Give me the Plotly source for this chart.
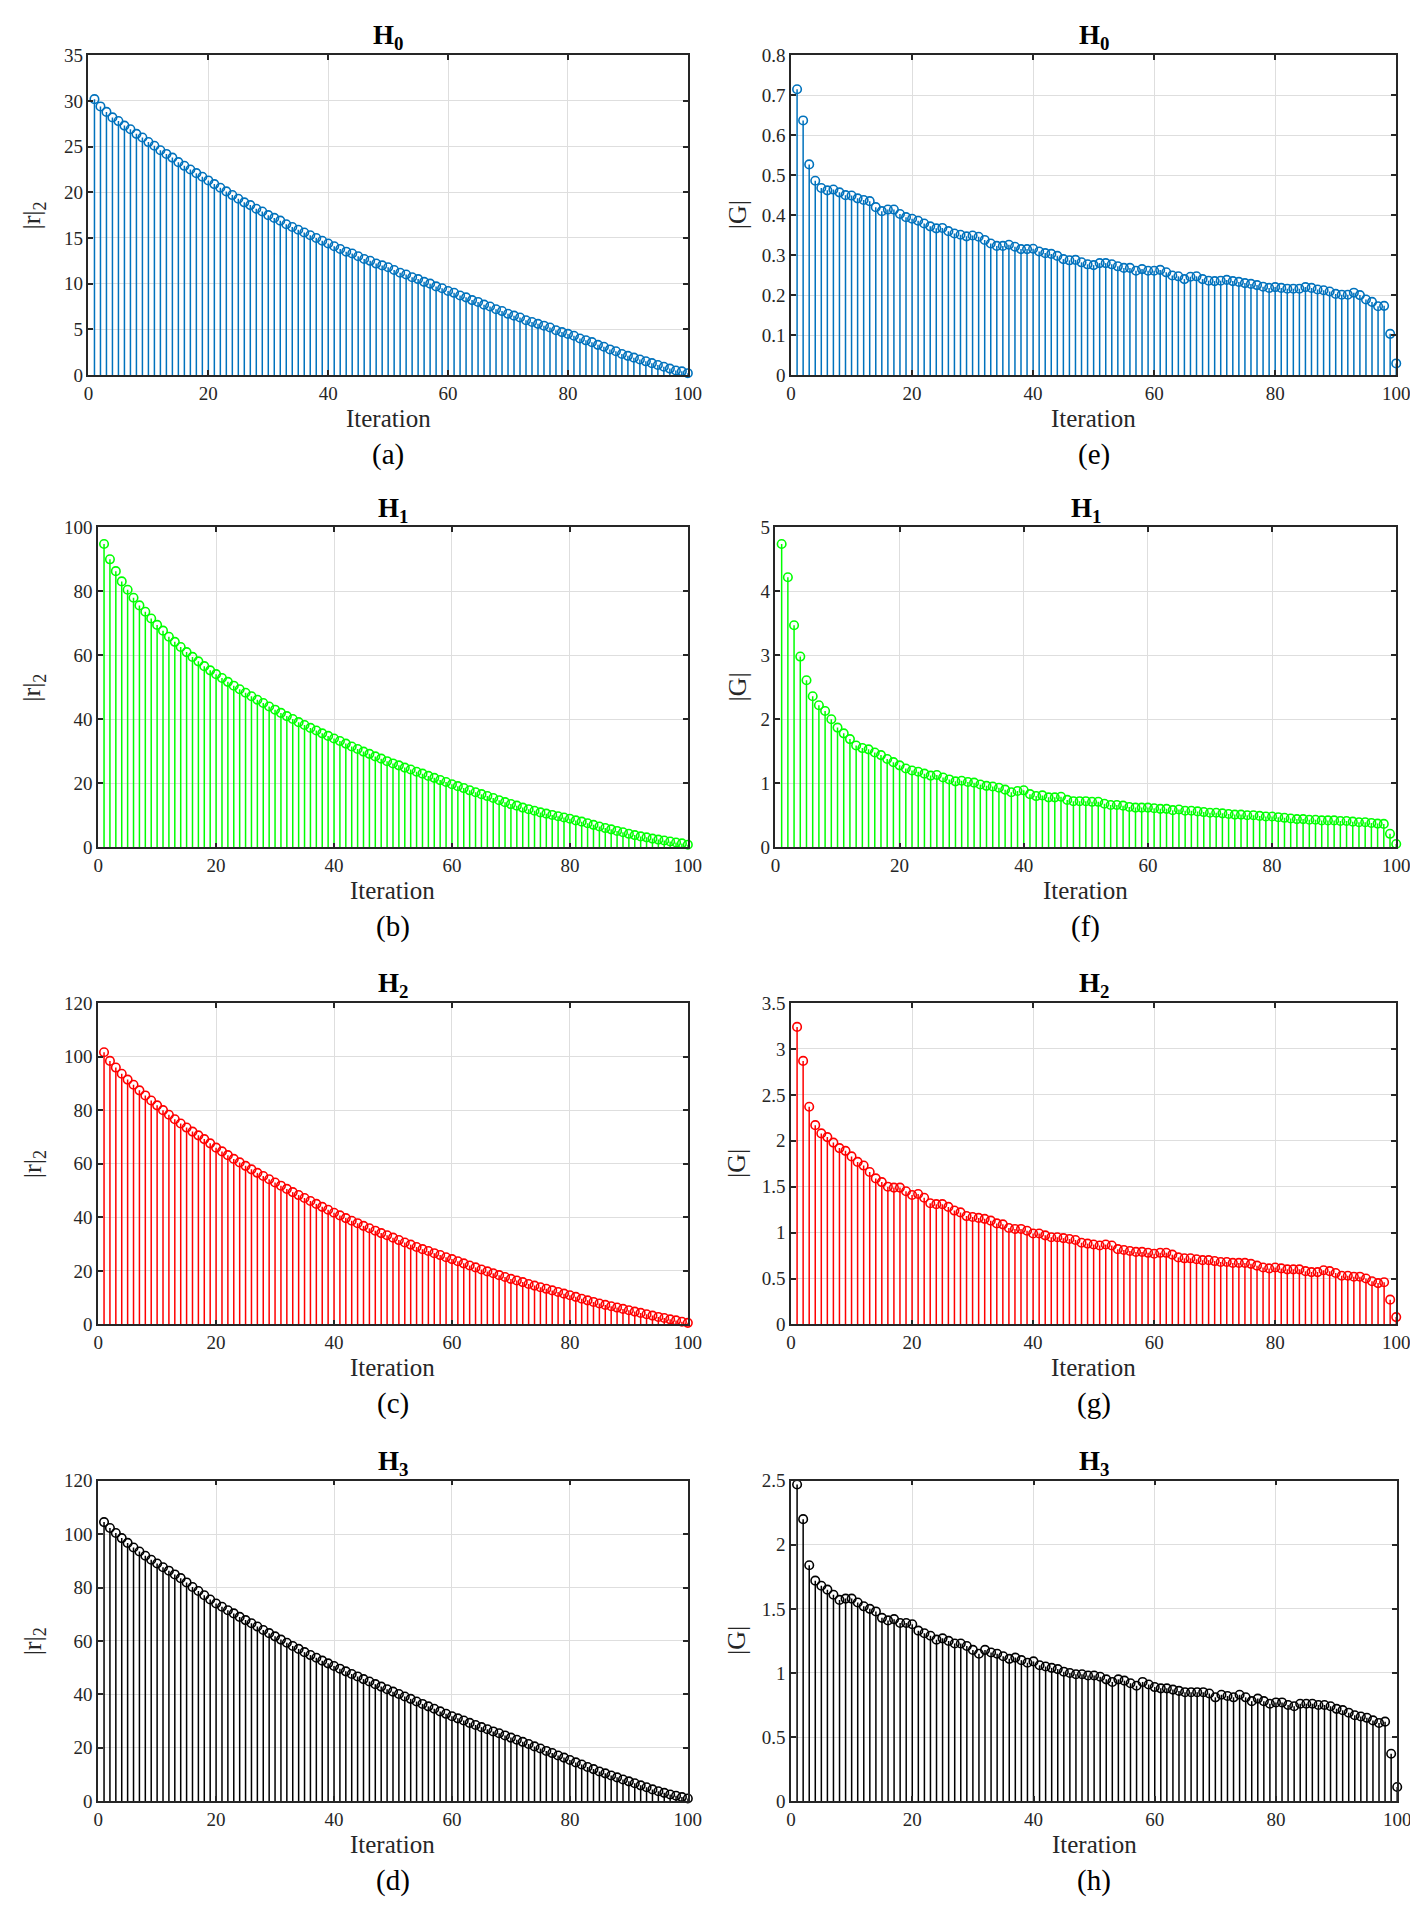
import plotly.graph_objs as go

iterations = list(range(1, 101))

# |r|_2 per iteration (left column)
h0_resid = [30.2, 29.4, 28.8, 28.2, 27.8, 27.3, 26.9, 26.4, 26.0, 25.5,
            25.1, 24.6, 24.2, 23.8, 23.3, 22.9, 22.5, 22.1, 21.7, 21.3,
            20.9, 20.5, 20.1, 19.7, 19.3, 18.9, 18.6, 18.2, 17.9, 17.5,
            17.2, 16.9, 16.5, 16.2, 15.9, 15.6, 15.3, 15.0, 14.7, 14.4,
            14.1, 13.8, 13.5, 13.3, 13.0, 12.7, 12.5, 12.2, 12.0, 11.8,
            11.5, 11.2, 11.0, 10.7, 10.5, 10.2, 10.0, 9.7, 9.5, 9.2,
            9.0, 8.7, 8.5, 8.2, 8.0, 7.7, 7.5, 7.2, 7.0, 6.7,
            6.5, 6.3, 6.0, 5.8, 5.6, 5.4, 5.2, 4.9, 4.7, 4.5,
            4.3, 4.0, 3.8, 3.6, 3.3, 3.1, 2.8, 2.6, 2.3, 2.1,
            1.9, 1.7, 1.5, 1.3, 1.1, 0.9, 0.7, 0.5, 0.4, 0.2]
h1_resid = [94.8, 90.0, 86.3, 83.1, 80.5, 78.0, 75.6, 73.6, 71.5, 69.5,
            67.7, 65.8, 64.2, 62.6, 61.0, 59.5, 58.1, 56.6, 55.3, 54.1,
            52.9, 51.7, 50.5, 49.4, 48.3, 47.2, 46.1, 45.1, 44.0, 43.0,
            42.0, 41.0, 40.1, 39.1, 38.2, 37.3, 36.5, 35.6, 34.8, 34.0,
            33.2, 32.4, 31.5, 30.7, 29.9, 29.2, 28.4, 27.7, 26.9, 26.2,
            25.6, 24.9, 24.3, 23.6, 23.0, 22.3, 21.7, 21.0, 20.4, 19.7,
            19.1, 18.5, 17.8, 17.2, 16.6, 16.0, 15.4, 14.7, 14.1, 13.5,
            13.0, 12.4, 11.9, 11.4, 10.9, 10.5, 10.1, 9.7, 9.3, 8.9,
            8.4, 8.0, 7.5, 7.0, 6.5, 6.0, 5.6, 5.1, 4.7, 4.2,
            3.8, 3.4, 3.1, 2.7, 2.4, 2.1, 1.8, 1.5, 1.2, 0.8]
h2_resid = [101.6, 98.4, 95.9, 93.6, 91.4, 89.5, 87.4, 85.5, 83.6, 81.8,
            80.0, 78.3, 76.6, 75.0, 73.5, 72.0, 70.6, 69.2, 67.6, 66.0,
            64.6, 63.2, 61.8, 60.5, 59.2, 57.9, 56.6, 55.4, 54.2, 53.0,
            51.8, 50.6, 49.4, 48.3, 47.2, 46.1, 45.0, 43.9, 42.8, 41.7,
            40.7, 39.7, 38.7, 37.8, 36.8, 35.9, 35.0, 34.1, 33.3, 32.4,
            31.5, 30.6, 29.8, 28.9, 28.1, 27.4, 26.6, 25.9, 25.1, 24.4,
            23.6, 22.8, 22.0, 21.3, 20.5, 19.8, 19.1, 18.4, 17.7, 17.0,
            16.4, 15.8, 15.1, 14.5, 13.9, 13.3, 12.7, 12.1, 11.5, 10.9,
            10.3, 9.6, 9.0, 8.4, 7.8, 7.3, 6.8, 6.3, 5.8, 5.3,
            4.8, 4.3, 3.8, 3.3, 2.8, 2.4, 1.9, 1.5, 1.0, 0.6]
h3_resid = [104.5, 102.3, 100.4, 98.5, 96.7, 95.0, 93.5, 91.9, 90.4, 89.0,
            87.6, 86.3, 84.9, 83.5, 81.9, 80.2, 78.7, 77.1, 75.5, 74.0,
            72.8, 71.5, 70.3, 69.0, 67.8, 66.6, 65.4, 64.1, 62.9, 61.7,
            60.5, 59.3, 58.1, 57.0, 55.8, 54.7, 53.7, 52.6, 51.6, 50.6,
            49.6, 48.6, 47.6, 46.7, 45.7, 44.8, 43.8, 42.9, 41.9, 41.0,
            40.1, 39.2, 38.3, 37.3, 36.4, 35.5, 34.6, 33.6, 32.7, 31.8,
            31.0, 30.2, 29.3, 28.5, 27.7, 26.9, 26.1, 25.4, 24.6, 23.8,
            23.0, 22.2, 21.4, 20.5, 19.7, 18.8, 18.0, 17.1, 16.3, 15.4,
            14.5, 13.7, 12.8, 12.0, 11.1, 10.4, 9.6, 8.9, 8.1, 7.4,
            6.7, 5.9, 5.2, 4.4, 3.7, 3.1, 2.5, 2.0, 1.5, 1.0]

# |G| per iteration (right column)
h0_grad = [0.715, 0.637, 0.527, 0.486, 0.468, 0.462, 0.464, 0.457, 0.450, 0.449,
           0.442, 0.438, 0.435, 0.420, 0.410, 0.414, 0.414, 0.403, 0.395, 0.391,
           0.386, 0.379, 0.372, 0.367, 0.368, 0.360, 0.354, 0.351, 0.347, 0.349,
           0.346, 0.338, 0.329, 0.323, 0.323, 0.326, 0.321, 0.315, 0.315, 0.316,
           0.309, 0.305, 0.303, 0.298, 0.290, 0.287, 0.288, 0.282, 0.277, 0.275,
           0.280, 0.280, 0.277, 0.272, 0.268, 0.268, 0.261, 0.265, 0.261, 0.261,
           0.263, 0.257, 0.249, 0.247, 0.240, 0.246, 0.247, 0.240, 0.236, 0.235,
           0.236, 0.238, 0.235, 0.233, 0.230, 0.228, 0.225, 0.221, 0.218, 0.220,
           0.218, 0.216, 0.216, 0.216, 0.220, 0.218, 0.214, 0.212, 0.209, 0.203,
           0.201, 0.201, 0.206, 0.200, 0.189, 0.183, 0.172, 0.173, 0.103, 0.029]
h1_grad = [4.74, 4.22, 3.47, 2.98, 2.61, 2.36, 2.22, 2.13, 2.00, 1.87,
           1.78, 1.69, 1.59, 1.55, 1.53, 1.48, 1.44, 1.38, 1.33, 1.28,
           1.23, 1.20, 1.18, 1.15, 1.12, 1.13, 1.09, 1.06, 1.03, 1.04,
           1.02, 1.01, 0.98, 0.96, 0.95, 0.93, 0.90, 0.86, 0.88, 0.89,
           0.83, 0.80, 0.81, 0.78, 0.78, 0.79, 0.74, 0.72, 0.72, 0.72,
           0.71, 0.71, 0.68, 0.66, 0.66, 0.65, 0.63, 0.62, 0.62, 0.62,
           0.61, 0.60, 0.60, 0.58, 0.59, 0.57, 0.57, 0.56, 0.55, 0.54,
           0.54, 0.53, 0.52, 0.51, 0.51, 0.50, 0.50, 0.49, 0.48, 0.48,
           0.47, 0.46, 0.45, 0.44, 0.44, 0.43, 0.43, 0.42, 0.42, 0.42,
           0.41, 0.41, 0.40, 0.39, 0.39, 0.38, 0.37, 0.365, 0.21, 0.05]
h2_grad = [3.24, 2.87, 2.37, 2.17, 2.08, 2.04, 1.98, 1.92, 1.89, 1.83,
           1.77, 1.73, 1.66, 1.59, 1.55, 1.50, 1.49, 1.49, 1.45, 1.41,
           1.42, 1.38, 1.32, 1.31, 1.31, 1.28, 1.24, 1.22, 1.18, 1.17,
           1.16, 1.15, 1.13, 1.10, 1.09, 1.05, 1.04, 1.04, 1.02, 0.99,
           0.99, 0.97, 0.95, 0.95, 0.94, 0.93, 0.92, 0.89, 0.88, 0.87,
           0.86, 0.87, 0.86, 0.82, 0.81, 0.80, 0.79, 0.79, 0.78, 0.77,
           0.78, 0.78, 0.76, 0.73, 0.72, 0.72, 0.71, 0.70, 0.70, 0.69,
           0.68, 0.68, 0.67, 0.67, 0.67, 0.66, 0.64, 0.62, 0.61, 0.62,
           0.61, 0.60, 0.60, 0.60, 0.58, 0.57, 0.57, 0.59, 0.58, 0.56,
           0.53, 0.53, 0.52, 0.52, 0.50, 0.47, 0.45, 0.46, 0.27, 0.08]
h3_grad = [2.47, 2.20, 1.84, 1.72, 1.68, 1.65, 1.61, 1.57, 1.58, 1.58,
           1.55, 1.52, 1.50, 1.48, 1.43, 1.41, 1.42, 1.39, 1.39, 1.38,
           1.33, 1.31, 1.29, 1.26, 1.27, 1.25, 1.23, 1.23, 1.21, 1.18,
           1.15, 1.18, 1.16, 1.15, 1.13, 1.11, 1.12, 1.10, 1.08, 1.09,
           1.06, 1.05, 1.04, 1.03, 1.01, 1.00, 0.99, 0.99, 0.98, 0.98,
           0.97, 0.95, 0.93, 0.95, 0.94, 0.92, 0.90, 0.93, 0.91, 0.89,
           0.88, 0.88, 0.87, 0.86, 0.85, 0.85, 0.85, 0.85, 0.84, 0.81,
           0.83, 0.82, 0.81, 0.83, 0.81, 0.78, 0.80, 0.78, 0.76, 0.77,
           0.77, 0.75, 0.74, 0.76, 0.76, 0.76, 0.75, 0.75, 0.74, 0.72,
           0.71, 0.69, 0.67, 0.66, 0.65, 0.63, 0.61, 0.62, 0.37, 0.11]

W, H = 1418, 1905
SERIF = "Liberation Serif, DejaVu Serif, serif"
AX = "#262626"

# (data, colour, title sub, ylabel, caption, ymax, dtick, box left/right/top/bottom in px)
panels = [
    (h0_resid, "#0072BD", "0", "|r|<sub>2</sub>", "(a)", 35, 5, (76.5, 684, 37.7, 361)),
    (h1_resid, "#00FF00", "1", "|r|<sub>2</sub>", "(b)", 100, 20, (86.3, 684, 515, 838.5)),
    (h2_resid, "#FF0000", "2", "|r|<sub>2</sub>", "(c)", 120, 20, (86.3, 684, 996, 1321)),
    (h3_resid, "#000000", "3", "|r|<sub>2</sub>", "(d)", 120, 20, (86.3, 684, 1479, 1803)),
    (h0_grad, "#0072BD", "0", "|G|", "(e)", 0.8, 0.1, (788.6, 1402, 37.7, 361)),
    (h1_grad, "#00FF00", "1", "|G|", "(f)", 5, 1, (772.8, 1402, 515, 838.5)),
    (h2_grad, "#FF0000", "2", "|G|", "(g)", 3.5, 0.5, (788.6, 1402, 996, 1321)),
    (h3_grad, "#000000", "3", "|G|", "(h)", 2.5, 0.5, (788.6, 1403, 1479, 1803)),
]

fig = go.Figure()
annotations = []
layout = {}

for i, (vals, color, sub, ylab, cap, ymax, dt, box) in enumerate(panels):
    n = i + 1
    left, right, top, bottom = box
    xa = "x" if n == 1 else "x%d" % n
    ya = "y" if n == 1 else "y%d" % n
    fig.add_trace(go.Scatter(
        x=iterations, y=vals, xaxis=xa, yaxis=ya, mode="markers",
        marker=dict(symbol="circle-open", size=8.5, color=color,
                    line=dict(width=1.6, color=color)),
        error_y=dict(type="data", symmetric=False, array=[0] * len(vals),
                     arrayminus=vals, width=0, thickness=1.5, color=color),
        cliponaxis=False, showlegend=False, hoverinfo="x+y"))

    common = dict(showline=True, linecolor=AX, linewidth=1.5, mirror="ticks",
                  ticks="inside", ticklen=5, tickwidth=1.5, tickcolor=AX,
                  showgrid=True, gridcolor="#dedede", gridwidth=1, zeroline=False,
                  tickfont=dict(family=SERIF, size=19, color=AX))
    layout["xaxis" if n == 1 else "xaxis%d" % n] = dict(
        common, domain=[left / W, right / W], range=[0, 100], dtick=20,
        anchor=ya)
    layout["yaxis" if n == 1 else "yaxis%d" % n] = dict(
        common, domain=[1 - bottom / H, 1 - top / H], range=[0, ymax], dtick=dt,
        anchor=xa)

    cx = (left + right) / 2 / W
    annotations += [
        dict(text="<b>H<sub>%s</sub></b>" % sub, x=cx, y=1 - (top - 18) / H,
             font=dict(family=SERIF, size=27, color="#000000")),
        dict(text="Iteration", x=cx, y=1 - (bottom + 44) / H,
             font=dict(family=SERIF, size=25, color=AX)),
        dict(text=cap, x=cx, y=1 - (bottom + 80) / H,
             font=dict(family=SERIF, size=29, color="#000000")),
        dict(text=ylab, x=(20.7 if n <= 4 else 734) / W, y=1 - (top + bottom) / 2 / H,
             textangle=-90, font=dict(family=SERIF, size=26, color=AX)),
    ]

for a in annotations:
    a.update(xref="paper", yref="paper", showarrow=False,
             xanchor="center", yanchor="middle")

fig.update_layout(**layout)
fig.update_layout(width=W, height=H, margin=dict(l=0, r=0, t=0, b=0),
                  plot_bgcolor="white", paper_bgcolor="white",
                  annotations=annotations, showlegend=False)

fig.write_html("out.html")
